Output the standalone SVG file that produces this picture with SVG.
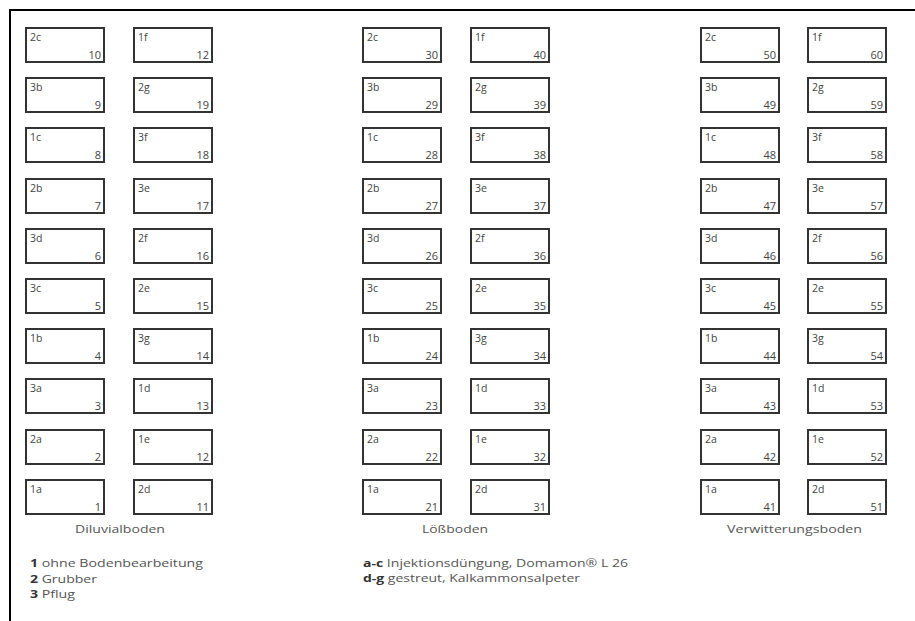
<svg xmlns="http://www.w3.org/2000/svg" width="915" height="621" viewBox="0 0 915 621">
<style>
.bx{fill:#fff;stroke:#333;stroke-width:2}
.lb{font-family:"Open Sans","Liberation Sans",sans-serif;font-size:10.5px;fill:#444}
.nr{font-family:"Open Sans","Liberation Sans",sans-serif;font-size:11px;fill:#444;text-anchor:end}
.cap{font-family:"Open Sans","Liberation Sans",sans-serif;font-size:11.5px;fill:#555;text-anchor:start}
.lg{font-family:"Open Sans","Liberation Sans",sans-serif;font-size:11px;fill:#555}
.b{font-weight:bold;fill:#333}
.frame{stroke:#000;stroke-width:2;fill:none}
</style>
<rect width="915" height="621" fill="#fff"/>
<g id="frame"><path class="frame" d="M10 621 V10 H915"/></g>
<g id="connectors"></g>

<!-- Diluvialboden -->
<g id="n-2c-10"><rect class="bx" x="26" y="28" width="78" height="34"/><text class="lb" x="30" y="41">2c</text><text class="nr" x="101" y="59">10</text></g>
<g id="n-3b-9"><rect class="bx" x="26" y="78" width="78" height="34"/><text class="lb" x="30" y="91">3b</text><text class="nr" x="101" y="109">9</text></g>
<g id="n-1c-8"><rect class="bx" x="26" y="128" width="78" height="34"/><text class="lb" x="30" y="141">1c</text><text class="nr" x="101" y="159">8</text></g>
<g id="n-2b-7"><rect class="bx" x="26" y="179" width="78" height="34"/><text class="lb" x="30" y="192">2b</text><text class="nr" x="101" y="210">7</text></g>
<g id="n-3d-6"><rect class="bx" x="26" y="229" width="78" height="34"/><text class="lb" x="30" y="242">3d</text><text class="nr" x="101" y="260">6</text></g>
<g id="n-3c-5"><rect class="bx" x="26" y="279" width="78" height="34"/><text class="lb" x="30" y="292">3c</text><text class="nr" x="101" y="310">5</text></g>
<g id="n-1b-4"><rect class="bx" x="26" y="329" width="78" height="34"/><text class="lb" x="30" y="342">1b</text><text class="nr" x="101" y="360">4</text></g>
<g id="n-3a-3"><rect class="bx" x="26" y="379" width="78" height="34"/><text class="lb" x="30" y="392">3a</text><text class="nr" x="101" y="410">3</text></g>
<g id="n-2a-2"><rect class="bx" x="26" y="430" width="78" height="34"/><text class="lb" x="30" y="443">2a</text><text class="nr" x="101" y="461">2</text></g>
<g id="n-1a-1"><rect class="bx" x="26" y="480" width="78" height="34"/><text class="lb" x="30" y="493">1a</text><text class="nr" x="101" y="511">1</text></g>

<g id="n-1f-12"><rect class="bx" x="134" y="28" width="78" height="34"/><text class="lb" x="138" y="41">1f</text><text class="nr" x="209" y="59">12</text></g>
<g id="n-2g-19"><rect class="bx" x="134" y="78" width="78" height="34"/><text class="lb" x="138" y="91">2g</text><text class="nr" x="209" y="109">19</text></g>
<g id="n-3f-18"><rect class="bx" x="134" y="128" width="78" height="34"/><text class="lb" x="138" y="141">3f</text><text class="nr" x="209" y="159">18</text></g>
<g id="n-3e-17"><rect class="bx" x="134" y="179" width="78" height="34"/><text class="lb" x="138" y="192">3e</text><text class="nr" x="209" y="210">17</text></g>
<g id="n-2f-16"><rect class="bx" x="134" y="229" width="78" height="34"/><text class="lb" x="138" y="242">2f</text><text class="nr" x="209" y="260">16</text></g>
<g id="n-2e-15"><rect class="bx" x="134" y="279" width="78" height="34"/><text class="lb" x="138" y="292">2e</text><text class="nr" x="209" y="310">15</text></g>
<g id="n-3g-14"><rect class="bx" x="134" y="329" width="78" height="34"/><text class="lb" x="138" y="342">3g</text><text class="nr" x="209" y="360">14</text></g>
<g id="n-1d-13"><rect class="bx" x="134" y="379" width="78" height="34"/><text class="lb" x="138" y="392">1d</text><text class="nr" x="209" y="410">13</text></g>
<g id="n-1e-12"><rect class="bx" x="134" y="430" width="78" height="34"/><text class="lb" x="138" y="443">1e</text><text class="nr" x="209" y="461">12</text></g>
<g id="n-2d-11"><rect class="bx" x="134" y="480" width="78" height="34"/><text class="lb" x="138" y="493">2d</text><text class="nr" x="209" y="511">11</text></g>

<!-- Lößboden -->
<g id="n-2c-30"><rect class="bx" x="363" y="28" width="78" height="34"/><text class="lb" x="367" y="41">2c</text><text class="nr" x="438" y="59">30</text></g>
<g id="n-3b-29"><rect class="bx" x="363" y="78" width="78" height="34"/><text class="lb" x="367" y="91">3b</text><text class="nr" x="438" y="109">29</text></g>
<g id="n-1c-28"><rect class="bx" x="363" y="128" width="78" height="34"/><text class="lb" x="367" y="141">1c</text><text class="nr" x="438" y="159">28</text></g>
<g id="n-2b-27"><rect class="bx" x="363" y="179" width="78" height="34"/><text class="lb" x="367" y="192">2b</text><text class="nr" x="438" y="210">27</text></g>
<g id="n-3d-26"><rect class="bx" x="363" y="229" width="78" height="34"/><text class="lb" x="367" y="242">3d</text><text class="nr" x="438" y="260">26</text></g>
<g id="n-3c-25"><rect class="bx" x="363" y="279" width="78" height="34"/><text class="lb" x="367" y="292">3c</text><text class="nr" x="438" y="310">25</text></g>
<g id="n-1b-24"><rect class="bx" x="363" y="329" width="78" height="34"/><text class="lb" x="367" y="342">1b</text><text class="nr" x="438" y="360">24</text></g>
<g id="n-3a-23"><rect class="bx" x="363" y="379" width="78" height="34"/><text class="lb" x="367" y="392">3a</text><text class="nr" x="438" y="410">23</text></g>
<g id="n-2a-22"><rect class="bx" x="363" y="430" width="78" height="34"/><text class="lb" x="367" y="443">2a</text><text class="nr" x="438" y="461">22</text></g>
<g id="n-1a-21"><rect class="bx" x="363" y="480" width="78" height="34"/><text class="lb" x="367" y="493">1a</text><text class="nr" x="438" y="511">21</text></g>

<g id="n-1f-40"><rect class="bx" x="471" y="28" width="78" height="34"/><text class="lb" x="475" y="41">1f</text><text class="nr" x="546" y="59">40</text></g>
<g id="n-2g-39"><rect class="bx" x="471" y="78" width="78" height="34"/><text class="lb" x="475" y="91">2g</text><text class="nr" x="546" y="109">39</text></g>
<g id="n-3f-38"><rect class="bx" x="471" y="128" width="78" height="34"/><text class="lb" x="475" y="141">3f</text><text class="nr" x="546" y="159">38</text></g>
<g id="n-3e-37"><rect class="bx" x="471" y="179" width="78" height="34"/><text class="lb" x="475" y="192">3e</text><text class="nr" x="546" y="210">37</text></g>
<g id="n-2f-36"><rect class="bx" x="471" y="229" width="78" height="34"/><text class="lb" x="475" y="242">2f</text><text class="nr" x="546" y="260">36</text></g>
<g id="n-2e-35"><rect class="bx" x="471" y="279" width="78" height="34"/><text class="lb" x="475" y="292">2e</text><text class="nr" x="546" y="310">35</text></g>
<g id="n-3g-34"><rect class="bx" x="471" y="329" width="78" height="34"/><text class="lb" x="475" y="342">3g</text><text class="nr" x="546" y="360">34</text></g>
<g id="n-1d-33"><rect class="bx" x="471" y="379" width="78" height="34"/><text class="lb" x="475" y="392">1d</text><text class="nr" x="546" y="410">33</text></g>
<g id="n-1e-32"><rect class="bx" x="471" y="430" width="78" height="34"/><text class="lb" x="475" y="443">1e</text><text class="nr" x="546" y="461">32</text></g>
<g id="n-2d-31"><rect class="bx" x="471" y="480" width="78" height="34"/><text class="lb" x="475" y="493">2d</text><text class="nr" x="546" y="511">31</text></g>

<!-- Verwitterungsboden -->
<g id="n-2c-50"><rect class="bx" x="701" y="28" width="78" height="34"/><text class="lb" x="705" y="41">2c</text><text class="nr" x="776" y="59">50</text></g>
<g id="n-3b-49"><rect class="bx" x="701" y="78" width="78" height="34"/><text class="lb" x="705" y="91">3b</text><text class="nr" x="776" y="109">49</text></g>
<g id="n-1c-48"><rect class="bx" x="701" y="128" width="78" height="34"/><text class="lb" x="705" y="141">1c</text><text class="nr" x="776" y="159">48</text></g>
<g id="n-2b-47"><rect class="bx" x="701" y="179" width="78" height="34"/><text class="lb" x="705" y="192">2b</text><text class="nr" x="776" y="210">47</text></g>
<g id="n-3d-46"><rect class="bx" x="701" y="229" width="78" height="34"/><text class="lb" x="705" y="242">3d</text><text class="nr" x="776" y="260">46</text></g>
<g id="n-3c-45"><rect class="bx" x="701" y="279" width="78" height="34"/><text class="lb" x="705" y="292">3c</text><text class="nr" x="776" y="310">45</text></g>
<g id="n-1b-44"><rect class="bx" x="701" y="329" width="78" height="34"/><text class="lb" x="705" y="342">1b</text><text class="nr" x="776" y="360">44</text></g>
<g id="n-3a-43"><rect class="bx" x="701" y="379" width="78" height="34"/><text class="lb" x="705" y="392">3a</text><text class="nr" x="776" y="410">43</text></g>
<g id="n-2a-42"><rect class="bx" x="701" y="430" width="78" height="34"/><text class="lb" x="705" y="443">2a</text><text class="nr" x="776" y="461">42</text></g>
<g id="n-1a-41"><rect class="bx" x="701" y="480" width="78" height="34"/><text class="lb" x="705" y="493">1a</text><text class="nr" x="776" y="511">41</text></g>

<g id="n-1f-60"><rect class="bx" x="808" y="28" width="78" height="34"/><text class="lb" x="812" y="41">1f</text><text class="nr" x="883" y="59">60</text></g>
<g id="n-2g-59"><rect class="bx" x="808" y="78" width="78" height="34"/><text class="lb" x="812" y="91">2g</text><text class="nr" x="883" y="109">59</text></g>
<g id="n-3f-58"><rect class="bx" x="808" y="128" width="78" height="34"/><text class="lb" x="812" y="141">3f</text><text class="nr" x="883" y="159">58</text></g>
<g id="n-3e-57"><rect class="bx" x="808" y="179" width="78" height="34"/><text class="lb" x="812" y="192">3e</text><text class="nr" x="883" y="210">57</text></g>
<g id="n-2f-56"><rect class="bx" x="808" y="229" width="78" height="34"/><text class="lb" x="812" y="242">2f</text><text class="nr" x="883" y="260">56</text></g>
<g id="n-2e-55"><rect class="bx" x="808" y="279" width="78" height="34"/><text class="lb" x="812" y="292">2e</text><text class="nr" x="883" y="310">55</text></g>
<g id="n-3g-54"><rect class="bx" x="808" y="329" width="78" height="34"/><text class="lb" x="812" y="342">3g</text><text class="nr" x="883" y="360">54</text></g>
<g id="n-1d-53"><rect class="bx" x="808" y="379" width="78" height="34"/><text class="lb" x="812" y="392">1d</text><text class="nr" x="883" y="410">53</text></g>
<g id="n-1e-52"><rect class="bx" x="808" y="430" width="78" height="34"/><text class="lb" x="812" y="443">1e</text><text class="nr" x="883" y="461">52</text></g>
<g id="n-2d-51"><rect class="bx" x="808" y="480" width="78" height="34"/><text class="lb" x="812" y="493">2d</text><text class="nr" x="883" y="511">51</text></g>

<g id="captions">
<text class="cap" x="75" y="533" textLength="90" lengthAdjust="spacingAndGlyphs">Diluvialboden</text>
<text class="cap" x="422" y="533" textLength="66" lengthAdjust="spacingAndGlyphs">Lößboden</text>
<text class="cap" x="727" y="533" textLength="135" lengthAdjust="spacingAndGlyphs">Verwitterungsboden</text>
</g>

<g id="legend">
<text class="lg" x="30" y="567" textLength="173" lengthAdjust="spacingAndGlyphs"><tspan class="b">1</tspan> ohne Bodenbearbeitung</text>
<text class="lg" x="30" y="583" textLength="67" lengthAdjust="spacingAndGlyphs"><tspan class="b">2</tspan> Grubber</text>
<text class="lg" x="30" y="598" textLength="45" lengthAdjust="spacingAndGlyphs"><tspan class="b">3</tspan> Pflug</text>
<text class="lg" x="363" y="567" textLength="265" lengthAdjust="spacingAndGlyphs"><tspan class="b">a-c</tspan> Injektionsdüngung, Domamon® L 26</text>
<text class="lg" x="363" y="582" textLength="217" lengthAdjust="spacingAndGlyphs"><tspan class="b">d-g</tspan> gestreut, Kalkammonsalpeter</text>
</g>
</svg>
